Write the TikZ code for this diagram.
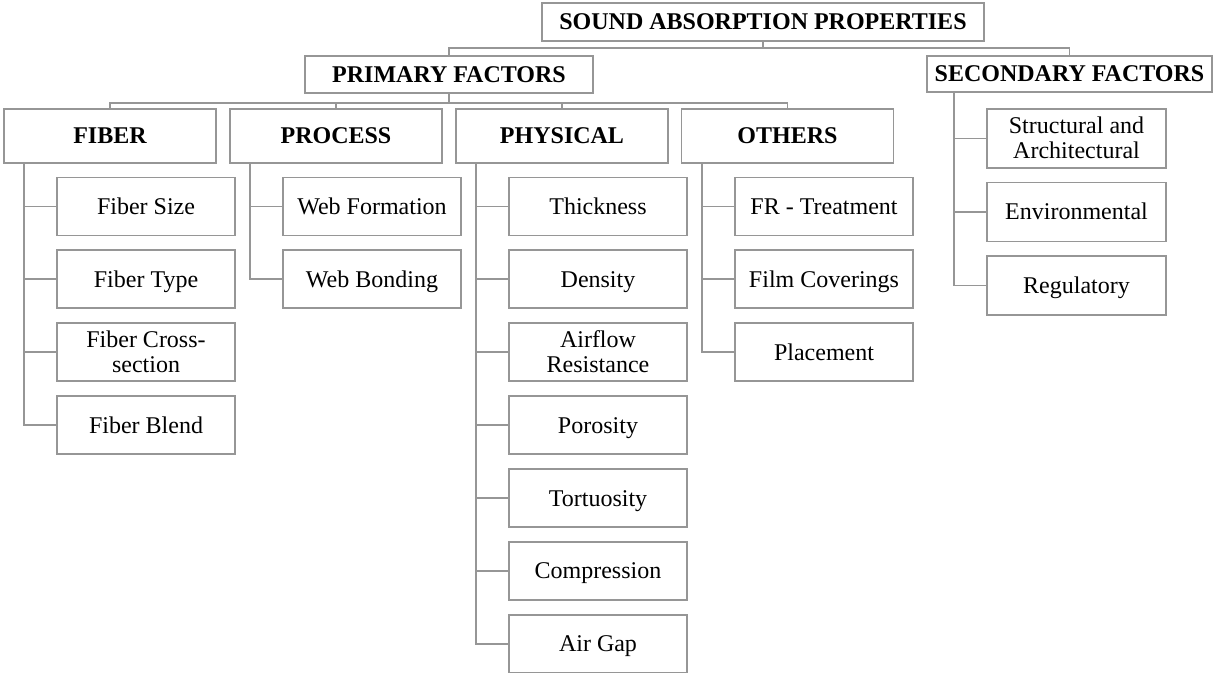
\documentclass[tikz,border=0pt]{standalone}
\usepackage{fontspec}
\setmainfont{Liberation Serif}
\definecolor{linegray}{RGB}{150,150,150}
\tikzset{
  box/.style={draw=linegray, line width=1.4pt, inner sep=0pt, align=center,
    font=\fontsize{18}{18.75}\selectfont},
  head/.style={box, font=\bfseries\fontsize{18}{18.75}\selectfont,
    text height=11.9pt, text depth=0pt},
  lvltwo/.style={head, minimum width=159pt, minimum height=40.5pt},
  leaf/.style={box, minimum width=133.5pt, minimum height=43.5pt,
    text height=11.9pt, text depth=0pt},
  leaftwo/.style={box, minimum width=133.5pt, minimum height=43.5pt,
    text height=30.65pt, text depth=0pt},
  link/.style={draw=linegray, line width=1.4pt},
}
\begin{document}
\begin{tikzpicture}[x=0.75pt, y=-0.75pt]
\useasboundingbox (0,0) rectangle (1215,673);

% levels of the horizontal bus lines
\coordinate (busA) at (0,48);
\coordinate (busB) at (0,103);

% top level
\node[head, minimum width=331.5pt, minimum height=28.5pt] (root) at (763,22) {SOUND ABSORPTION PROPERTIES};
\node[head, minimum width=216pt, minimum height=27.75pt] (prim) at (449,74.5) {PRIMARY FACTORS};
\node[head, minimum width=213.75pt, minimum height=27pt] (sec) at (1069.5,74) {SECONDARY FACTORS};

% primary groups
\node[lvltwo] (fib)  at (110,136)   {FIBER};
\node[lvltwo] (proc) at (336,136)   {PROCESS};
\node[lvltwo] (phy)  at (562,136)   {PHYSICAL};
\node[lvltwo] (oth)  at (787.5,136) {OTHERS};

% fiber
\node[leaf]    (fsize)  at (146,206.5)   {Fiber Size};
\node[leaf]    (ftype)  at (146,279.4)   {Fiber Type};
\node[leaftwo] (fcross) at (146,352.3)   {Fiber Cross-\\section};
\node[leaf]    (fblend) at (146,425.2)   {Fiber Blend};

% process
\node[leaf] (wform) at (372,206.5) {Web Formation};
\node[leaf] (wbond) at (372,279.4) {Web Bonding};

% physical
\node[leaf]    (thick) at (598,206.5) {Thickness};
\node[leaf]    (dens)  at (598,279.4) {Density};
\node[leaftwo] (air)   at (598,352.3) {Airflow\\Resistance};
\node[leaf]    (poro)  at (598,425.2) {Porosity};
\node[leaf]    (tort)  at (598,498.1) {Tortuosity};
\node[leaf]    (comp)  at (598,571.0) {Compression};
\node[leaf]    (gap)   at (598,643.9) {Air Gap};

% others
\node[leaf] (frt)  at (824,206.5) {FR - Treatment};
\node[leaf] (film) at (824,279.4) {Film Coverings};
\node[leaf] (plac) at (824,352.3) {Placement};

% secondary
\node[leaftwo, minimum width=134.25pt, minimum height=44.25pt] (struc) at (1076.5,138.5) {Structural and\\Architectural};
\node[leaf, minimum width=134.25pt, minimum height=44.25pt] (env) at (1076.5,212) {Environmental};
\node[leaf, minimum width=134.25pt, minimum height=44.25pt] (reg) at (1076.5,285.5) {Regulatory};

% bus from the root
\draw[link] (root.south) -- (root.south |- busA);
\draw[link] (prim.north) |- (busA -| sec.north) -- (sec.north);

% bus from primary factors
\draw[link] (prim.south) -- (prim.south |- busB);
\draw[link] (fib.north) |- (busB -| oth.north) -- (oth.north);
\draw[link] (proc.north) -- (proc.north |- busB);
\draw[link] (phy.north) -- (phy.north |- busB);

% trunks of each group
\coordinate (fibT)  at ([xshift=15.75pt]fib.south west);
\coordinate (procT) at ([xshift=15.75pt]proc.south west);
\coordinate (phyT)  at ([xshift=15.75pt]phy.south west);
\coordinate (othT)  at ([xshift=15.75pt]oth.south west);
\coordinate (secT)  at ([xshift=21pt]sec.south west);

\foreach \c in {fsize,ftype,fcross,fblend} \draw[link] (fibT) |- (\c.west);
\foreach \c in {wform,wbond} \draw[link] (procT) |- (\c.west);
\foreach \c in {thick,dens,air,poro,tort,comp,gap} \draw[link] (phyT) |- (\c.west);
\foreach \c in {frt,film,plac} \draw[link] (othT) |- (\c.west);
\foreach \c in {struc,env,reg} \draw[link] (secT) |- (\c.west);
\end{tikzpicture}
\end{document}
